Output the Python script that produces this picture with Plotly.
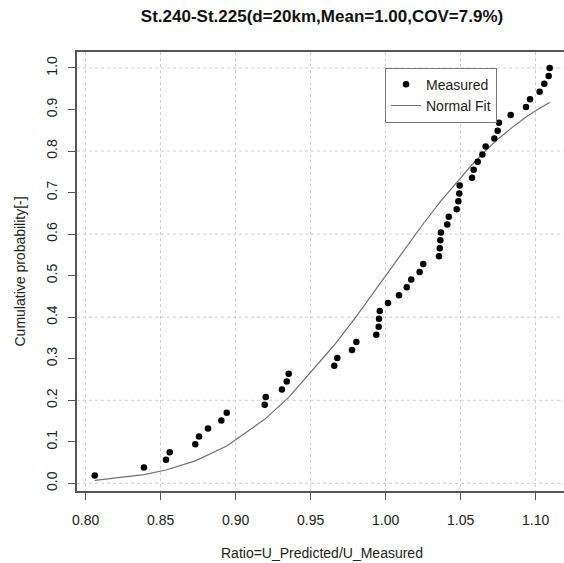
import plotly.graph_objects as go

# ---- data ----
measured_x = [0.8061, 0.8389, 0.8536, 0.8561, 0.8731, 0.8756, 0.8816, 0.8905, 0.8941, 0.9194,
              0.9201, 0.9309, 0.9341, 0.9354, 0.9658, 0.9678, 0.9776, 0.9805, 0.9938, 0.9954,
              0.9956, 0.9961, 1.0016, 1.0089, 1.0141, 1.0171, 1.0227, 1.0251, 1.0356, 1.0361,
              1.0365, 1.0369, 1.0411, 1.0421, 1.0474, 1.0485, 1.0491, 1.0494, 1.0576, 1.0587,
              1.0614, 1.0645, 1.0667, 1.0725, 1.0747, 1.0756, 1.0834, 1.0936, 1.0963, 1.1027,
              1.1058, 1.1087, 1.1094]
measured_y = [0.019, 0.038, 0.057, 0.075, 0.094, 0.113, 0.132, 0.151, 0.170, 0.189,
              0.208, 0.226, 0.245, 0.264, 0.283, 0.302, 0.321, 0.340, 0.358, 0.377,
              0.396, 0.415, 0.434, 0.453, 0.472, 0.491, 0.509, 0.528, 0.547, 0.566,
              0.585, 0.604, 0.623, 0.642, 0.660, 0.679, 0.698, 0.717, 0.736, 0.755,
              0.774, 0.792, 0.811, 0.830, 0.849, 0.868, 0.887, 0.906, 0.925, 0.943,
              0.962, 0.981, 1.000]

fit_x = [0.8061, 0.8389, 0.8536, 0.8731, 0.8941, 0.9194, 0.9354, 0.9658, 0.9805, 0.9938,
         1.0016, 1.0141, 1.0251, 1.0369, 1.0494, 1.0576, 1.0667, 1.0756, 1.0834, 1.0936,
         1.1027, 1.1094]
fit_y = [0.007, 0.021, 0.032, 0.054, 0.090, 0.154, 0.207, 0.333, 0.402, 0.469,
         0.508, 0.571, 0.625, 0.680, 0.734, 0.767, 0.801, 0.831, 0.854, 0.882,
         0.903, 0.917]

x_ticks = [0.80, 0.85, 0.90, 0.95, 1.00, 1.05, 1.10]
y_ticks = [0.0, 0.1, 0.2, 0.3, 0.4, 0.5, 0.6, 0.7, 0.8, 0.9, 1.0]
y_grid = [0.0, 0.2, 0.4, 0.6, 0.8, 1.0]

title_text = "St.240-St.225(d=20km,Mean=1.00,COV=7.9%)"
x_title = "Ratio=U_Predicted/U_Measured"
y_title = "Cumulative probability[-]"

FONT = "Liberation Sans, Arial, Helvetica, sans-serif"
AX = "#555555"
GRID = "#d0d0d0"

fig = go.Figure()
fig.add_trace(go.Scatter(x=fit_x, y=fit_y, mode="lines", name="Normal Fit",
                         line=dict(color="#707070", width=1.2)))
fig.add_trace(go.Scatter(x=measured_x, y=measured_y, mode="markers", name="Measured",
                         marker=dict(color="black", size=6.5, line=dict(width=0))))

shapes = []
for g in y_grid:
    shapes.append(dict(type="line", xref="paper", x0=0, x1=1, yref="y", y0=g, y1=g,
                       line=dict(color=GRID, width=1, dash="dot"), layer="below"))

fig.update_layout(
    width=564, height=563,
    margin=dict(l=77, r=0, t=52, b=72, pad=0),
    paper_bgcolor="white", plot_bgcolor="white",
    font=dict(family=FONT, size=14, color="#222222"),
    title=dict(text="<b>" + title_text + "</b>", x=(322 - 77) / 487, xref="paper",
               xanchor="center", y=1 - 16 / 563, yanchor="middle",
               font=dict(family=FONT, size=17, color="#111111")),
    showlegend=True,
    legend=dict(x=(385 - 77) / 487, y=(491 - 67.7) / 439, xanchor="left", yanchor="top",
                bgcolor="white", bordercolor="#777777", borderwidth=1,
                font=dict(family=FONT, size=14, color="#222222"),
                traceorder="reversed"),
    shapes=shapes,
    xaxis=dict(range=[0.79427, 1.11893], tickvals=x_ticks,
               ticktext=[f"{v:.2f}" for v in x_ticks],
               showgrid=True, gridcolor=GRID, griddash="dot", gridwidth=1,
               zeroline=False, showline=True, linecolor=AX, linewidth=1.5, mirror=True,
               ticks="outside", ticklen=7, tickwidth=1.2, tickcolor=AX,
               tickfont=dict(size=14, color="#222222"), ticklabelstandoff=8),
    yaxis=dict(range=[-0.0185, 1.0385], tickvals=y_ticks,
               ticktext=[f"{v:.1f}" for v in y_ticks], tickangle=-90,
               showgrid=False, zeroline=False, showline=True, linecolor=AX, linewidth=1.5,
               mirror=False, ticks="outside", ticklen=7, tickwidth=1.2, tickcolor=AX,
               tickfont=dict(size=14, color="#222222"), ticklabelstandoff=6),
    annotations=[
        dict(text=x_title, xref="paper", yref="paper", x=(322 - 77) / 487,
             y=(491 - 553) / 439, xanchor="center", yanchor="middle", showarrow=False,
             font=dict(size=14, color="#222222")),
        dict(text=y_title, xref="paper", yref="paper", x=(19 - 77) / 487, y=0.5,
             xanchor="center", yanchor="middle", textangle=-90, showarrow=False,
             font=dict(size=14, color="#222222")),
    ],
)

fig.write_html("out.html")
